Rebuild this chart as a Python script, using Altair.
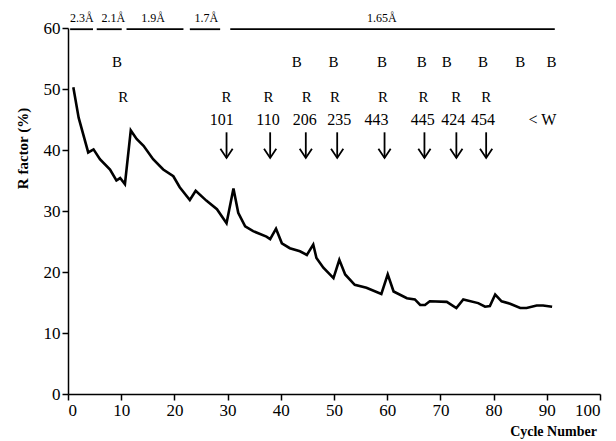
import altair as alt
import pandas as pd

# Curve
cycles = [1, 2, 3.8, 4.8, 6, 7.9, 9.1, 9.8, 10.7, 11.8, 12.9, 14.2, 16, 17.9, 19.8, 21, 22.9, 24, 26, 28,
          29.8, 31.1, 32, 33.3, 34.8, 37.3, 38, 39.1, 40.2, 41.7, 43.6, 44.9, 46.1, 46.7, 48, 49.9, 51, 52.1,
          53.9, 56.1, 58.9, 60.1, 61.2, 63.7, 65.2, 66.2, 67.1, 68, 71.2, 73, 74.3, 77.1, 78.4, 79.3, 80.3,
          81.5, 83.1, 85, 86.2, 88.1, 89.3, 91]
rfactor = [50.3, 45.3, 39.6, 40.1, 38.5, 36.8, 35.0, 35.4, 34.4, 43.2, 41.8, 40.7, 38.5, 36.8, 35.7, 33.9,
           31.8, 33.3, 31.7, 30.3, 28.0, 33.7, 29.7, 27.5, 26.7, 25.8, 25.4, 27.1, 24.7, 23.9, 23.4, 22.8,
           24.5, 22.3, 20.7, 19.0, 22.0, 19.6, 17.9, 17.4, 16.4, 19.6, 16.8, 15.7, 15.5, 14.6, 14.6, 15.2,
           15.1, 14.1, 15.5, 14.9, 14.3, 14.4, 16.3, 15.2, 14.8, 14.1, 14.1, 14.5, 14.5, 14.3]

# Resolution segments
res_start = [0.4, 5.4, 11, 22.9, 30.5]
res_end = [4.7, 10.1, 21.7, 28.6, 91.5]
res_label = ["2.3Å", "2.1Å", "1.9Å", "1.7Å", "1.65Å"]
res_label_x = [2.6, 8.5, 16, 26, 59]

# B and R markers
b_x = [9.2, 43, 49.9, 59, 66.5, 71.2, 78, 85, 90.9]
r_x = [10.4, 29.8, 37.7, 44.9, 50.2, 59.2, 66.8, 73, 78.6]

# Numbered arrows
num_label = ["101", "110", "206", "235", "443", "445", "424", "454", "< W"]
num_x = [28.9, 37.6, 44.5, 51, 58, 66.7, 72.4, 78, 89.2]
arrow_x = [29.8, 38, 44.7, 50.6, 59.5, 67, 73, 78.6]

RES_Y = 59.8
RES_LABEL_Y = 61.6
B_Y = 54.4
R_Y = 48.7
NUM_Y = 45.0
ARROW_TOP = 42.9
ARROW_TIP = 38.7

SERIF = "Liberation Serif"

curve_df = pd.DataFrame({"cycle": cycles, "r": rfactor})
res_df = pd.DataFrame({"x": res_start, "x2": res_end, "y": [RES_Y] * len(res_start)})
res_lab_df = pd.DataFrame({"x": res_label_x, "label": res_label, "y": [RES_LABEL_Y] * len(res_label)})
b_df = pd.DataFrame({"x": b_x, "label": ["B"] * len(b_x), "y": [B_Y] * len(b_x)})
r_df = pd.DataFrame({"x": r_x, "label": ["R"] * len(r_x), "y": [R_Y] * len(r_x)})
num_df = pd.DataFrame({"x": num_x, "label": num_label, "y": [NUM_Y] * len(num_x)})
arr_df = pd.DataFrame({"x": arrow_x, "y": [ARROW_TOP] * len(arrow_x), "y2": [ARROW_TIP] * len(arrow_x)})

xscale = alt.Scale(domain=[0, 100], nice=False)
yscale = alt.Scale(domain=[0, 60], nice=False)

xaxis = alt.Axis(values=list(range(0, 101, 10)), grid=False, title="Cycle Number",
                 titleFont=SERIF, titleFontSize=14, titleFontWeight="bold", titleColor="black",
                 titleX=485, titleY=30, titleAnchor="middle",
                 labelFont=SERIF, labelFontSize=17, labelColor="black", labelPadding=2,
                 domainColor="black", domainWidth=1.5, tickColor="black", tickSize=6, tickWidth=1.5)
yaxis = alt.Axis(values=list(range(0, 61, 10)), grid=False, title="R factor (%)",
                 titleFont=SERIF, titleFontSize=15, titleFontWeight="bold", titleColor="black",
                 titleX=-46, titleY=120, titleAngle=270, titleAnchor="middle", titleBaseline="middle",
                 labelFont=SERIF, labelFontSize=17, labelColor="black", labelPadding=2,
                 domainColor="black", domainWidth=1.5, tickColor="black", tickSize=6, tickWidth=1.5)

line = alt.Chart(curve_df).mark_line(color="black", strokeWidth=2.6).encode(
    x=alt.X("cycle:Q", scale=xscale, axis=xaxis),
    y=alt.Y("r:Q", scale=yscale, axis=yaxis),
)

res_rules = alt.Chart(res_df).mark_rule(color="black", strokeWidth=1.8).encode(
    x=alt.X("x:Q", scale=xscale), x2="x2:Q", y=alt.Y("y:Q", scale=yscale)
)

def text_layer(df, size):
    return alt.Chart(df).mark_text(font=SERIF, fontSize=size, color="black", baseline="middle").encode(
        x=alt.X("x:Q", scale=xscale), y=alt.Y("y:Q", scale=yscale), text="label:N"
    )

res_text = text_layer(res_lab_df, 12)
b_text = text_layer(b_df, 15)
r_text = text_layer(r_df, 15)
num_text = text_layer(num_df, 16)

shafts = alt.Chart(arr_df).mark_rule(color="black", strokeWidth=1.8).encode(
    x=alt.X("x:Q", scale=xscale), y=alt.Y("y:Q", scale=yscale), y2="y2:Q"
)
heads = alt.Chart(arr_df).mark_point(shape="M-1,-1.5L0,0L1,-1.5", filled=False, color="black",
                                     strokeWidth=1.8, size=150, opacity=1).encode(
    x=alt.X("x:Q", scale=xscale), y=alt.Y("y2:Q", scale=yscale)
)

chart = alt.layer(line, res_rules, res_text, b_text, r_text, num_text, shafts, heads).properties(
    width=532, height=366,
    autosize=alt.AutoSizeParams(type="none"),
    padding={"left": 68, "top": 28, "right": 16, "bottom": 47},
    background="white",
).configure_view(stroke=None)

chart.save("out.html", embed_options={"renderer": "svg", "actions": False})
